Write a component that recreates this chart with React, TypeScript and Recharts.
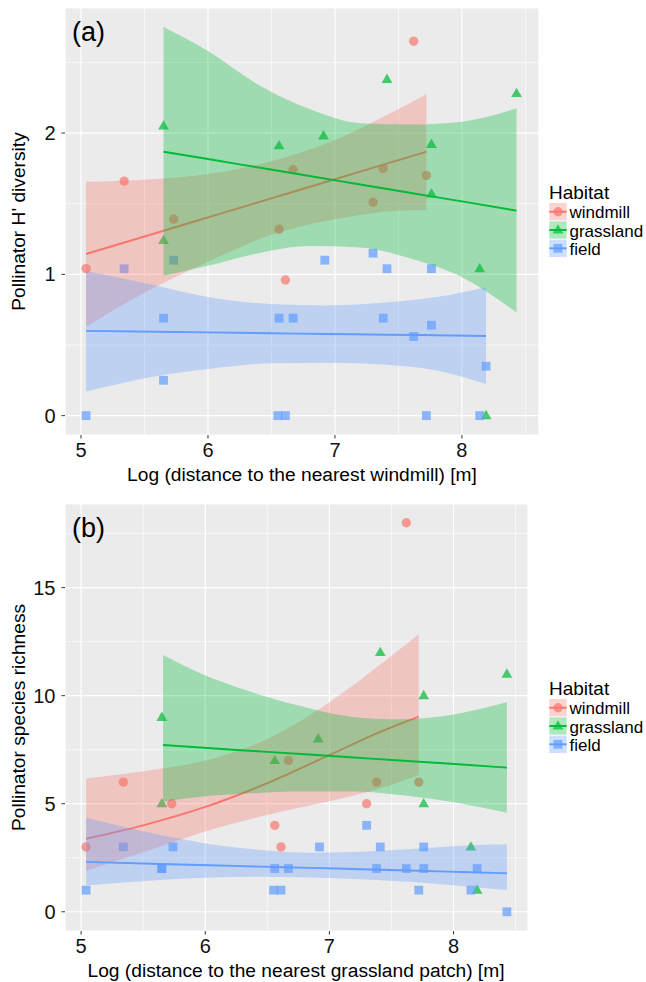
import { ComposedChart, Scatter, Area, Line, XAxis, YAxis, CartesianGrid, ReferenceLine } from 'recharts'

const RED = '#F8766D'
const GREEN = '#00BA38'
const BLUE = '#619CFF'
const FONT = '"Liberation Sans", Arial, Helvetica, sans-serif'

const HABITATS = ['windmill', 'grassland', 'field']

const X_TICKS = [5, 6, 7, 8]
const X_MINOR = [5.5, 6.5, 7.5, 8.5]
const DIV_TICKS = [0, 1, 2]
const DIV_MINOR = [0.5, 1.5, 2.5]
const RICH_TICKS = [0, 5, 10, 15]
const RICH_MINOR = [2.5, 7.5, 12.5, 17.5]

// observed points
const windmillX = [5.04, 5.34, 5.73, 6.56, 6.61, 6.67, 7.3, 7.38, 7.62, 7.72]
const windmillDiversity = [1.04, 1.66, 1.39, 1.32, 0.96, 1.74, 1.51, 1.75, 2.65, 1.7]
const windmillRichness = [3, 6, 5, 4, 3, 7, 5, 6, 18, 6]

const grassX = [5.65, 5.65, 6.56, 6.91, 7.41, 7.76, 7.76, 8.14, 8.19, 8.43]
const grassDiversity = [2.05, 1.24, 1.91, 1.98, 2.38, 1.92, 1.57, 1.04, 0.0, 2.28]
const grassRichness = [9, 5, 7, 8, 12, 10, 5, 3, 1, 11]

const fieldXA = [5.04, 5.34, 5.65, 5.65, 5.73, 6.55, 6.56, 6.61, 6.67, 6.92, 7.3, 7.38, 7.41, 7.62, 7.72, 7.76, 7.76, 8.14, 8.19]
const fieldDiversity = [0, 1.04, 0.69, 0.25, 1.1, 0, 0.69, 0, 0.69, 1.1, 1.15, 0.69, 1.04, 0.56, 0, 1.04, 0.64, 0, 0.35]
const fieldXB = [5.04, 5.34, 5.65, 5.65, 5.74, 6.55, 6.56, 6.61, 6.67, 6.92, 7.3, 7.38, 7.41, 7.62, 7.72, 7.76, 7.76, 8.14, 8.19, 8.43]
const fieldRichness = [1, 3, 2, 2, 3, 1, 2, 1, 2, 3, 4, 2, 3, 2, 1, 3, 2, 1, 2, 0]

// fitted lines + confidence bands, panel (a)
const windmillFitXA = [5.04, 5.5, 6.0, 6.5, 7.0, 7.5, 7.72]
const windmillFitA = [1.144, 1.268, 1.403, 1.538, 1.673, 1.809, 1.868]
const windmillLowA = [0.63, 0.87, 1.09, 1.28, 1.39, 1.45, 1.456]
const windmillHighA = [1.656, 1.67, 1.71, 1.8, 1.95, 2.17, 2.277]

const grassFitXA = [5.65, 6.0, 6.4, 6.8, 7.2, 7.6, 8.0, 8.43]
const grassFitA = [1.868, 1.816, 1.756, 1.696, 1.636, 1.576, 1.516, 1.451]
const grassLowA = [0.99, 1.06, 1.15, 1.2, 1.19, 1.11, 0.98, 0.73]
const grassHighA = [2.75, 2.58, 2.34, 2.17, 2.07, 2.06, 2.08, 2.175]

const fieldFitXA = [5.04, 5.6, 6.0, 6.5, 6.94, 7.4, 7.8, 8.19]
const fieldFitA = [0.6, 0.594, 0.589, 0.583, 0.578, 0.573, 0.569, 0.564]
const fieldLowA = [0.17, 0.28, 0.33, 0.37, 0.375, 0.36, 0.32, 0.224]
const fieldHighA = [1.024, 0.92, 0.84, 0.79, 0.78, 0.8, 0.84, 0.909]

// fitted lines + confidence bands, panel (b)
const windmillFitXB = [5.04, 5.5, 6.0, 6.5, 7.0, 7.4, 7.72]
const windmillFitB = [3.38, 4.0, 4.85, 5.95, 7.25, 8.3, 9.03]
const windmillLowB = [1.9, 2.75, 3.72, 4.48, 5.11, 5.69, 6.33]
const windmillHighB = [6.17, 6.5, 7.0, 8.0, 9.7, 11.4, 12.84]

const grassFitXB = [5.66, 5.96, 6.36, 6.77, 7.17, 7.57, 7.98, 8.43]
const grassFitB = [7.72, 7.6, 7.45, 7.3, 7.15, 7.0, 6.85, 6.67]
const grassLowB = [5.09, 5.32, 5.48, 5.56, 5.56, 5.4, 5.09, 4.58]
const grassHighB = [11.88, 11.04, 10.19, 9.52, 9.03, 8.91, 9.11, 9.69]

const fieldFitXB = [5.04, 5.64, 6.04, 6.44, 6.85, 7.25, 7.65, 8.06, 8.43]
const fieldFitB = [2.31, 2.21, 2.15, 2.09, 2.03, 1.97, 1.91, 1.84, 1.78]
const fieldLowB = [1.22, 1.47, 1.59, 1.62, 1.59, 1.51, 1.39, 1.19, 1.0]
const fieldHighB = [4.35, 3.55, 3.13, 2.86, 2.73, 2.78, 2.9, 3.06, 3.13]

const toPoints = (xs: number[], ys: number[]) => xs.map((x, i) => ({ x, y: ys[i] }))
const toBand = (xs: number[], fit: number[], lo: number[], hi: number[]) =>
  xs.map((x, i) => ({ x, fit: fit[i], range: [lo[i], hi[i]] }))

const Circle = (p: any) => <circle cx={p.cx} cy={p.cy} r={4.7} fill={RED} fillOpacity={0.7} />
const Triangle = (p: any) => (
  <polygon
    points={`${p.cx},${p.cy - 5.8} ${p.cx - 5.4},${p.cy + 3.6} ${p.cx + 5.4},${p.cy + 3.6}`}
    fill={GREEN}
    fillOpacity={0.7}
  />
)
const Square = (p: any) => <rect x={p.cx - 4.4} y={p.cy - 4.4} width={8.8} height={8.8} fill={BLUE} fillOpacity={0.7} />

interface PanelProps {
  windmill: { x: number; y: number }[]
  grass: { x: number; y: number }[]
  field: { x: number; y: number }[]
  windmillFit: any[]
  grassFit: any[]
  fieldFit: any[]
  yDomain: [number, number]
  yTicks: number[]
  yMinor: number[]
  xDomain: [number, number]
  right: number
}

function Panel(props: PanelProps) {
  const { yDomain, yTicks, yMinor, xDomain, right } = props
  const fits = [
    { data: props.windmillFit, color: RED, z: 120 },
    { data: props.grassFit, color: GREEN, z: 140 },
    { data: props.fieldFit, color: BLUE, z: 160 },
  ]
  return (
    <ComposedChart width={646} height={496} margin={{ top: 8, right, left: 0, bottom: 31 }}>
      <CartesianGrid fill="#EBEBEB" stroke="#FFFFFF" strokeWidth={1.2} />
      {X_MINOR.map(v => (
        <ReferenceLine key={`vx${v}`} x={v} stroke="#FFFFFF" strokeWidth={0.6} zIndex={-50} />
      ))}
      {yMinor.map(v => (
        <ReferenceLine key={`hy${v}`} y={v} stroke="#FFFFFF" strokeWidth={0.6} zIndex={-50} />
      ))}
      <XAxis
        type="number"
        dataKey="x"
        domain={xDomain}
        ticks={X_TICKS}
        allowDataOverflow
        axisLine={false}
        tickSize={3.5}
        tickMargin={4}
        height={30}
        tickLine={{ stroke: '#333333' }}
        tick={{ fill: '#111111', fontSize: 20, fontFamily: FONT }}
      />
      <YAxis
        type="number"
        dataKey="y"
        domain={yDomain}
        ticks={yTicks}
        allowDataOverflow
        axisLine={false}
        width={65}
        tickSize={3.5}
        tickMargin={6}
        tickLine={{ stroke: '#333333' }}
        tick={{ fill: '#111111', fontSize: 20, fontFamily: FONT }}
      />
      <Scatter data={props.windmill} shape={Circle} isAnimationActive={false} zIndex={100} />
      <Scatter data={props.grass} shape={Triangle} isAnimationActive={false} zIndex={101} />
      <Scatter data={props.field} shape={Square} isAnimationActive={false} zIndex={102} />
      {fits.map((f, i) => [
        <Area
          key={`a${i}`}
          data={f.data}
          dataKey="range"
          type="monotone"
          stroke="none"
          fill={f.color}
          fillOpacity={0.32}
          isAnimationActive={false}
          activeDot={false}
          zIndex={f.z}
        />,
        <Line
          key={`l${i}`}
          data={f.data}
          dataKey="fit"
          type="monotone"
          stroke={f.color}
          strokeWidth={1.9}
          dot={false}
          activeDot={false}
          isAnimationActive={false}
          zIndex={f.z + 1}
        />,
      ])}
    </ComposedChart>
  )
}

const COLORS = [RED, GREEN, BLUE]
const SHAPES = [Circle, Triangle, Square]

function LegendBlock({ top }: { top: number }) {
  return (
    <g>
      <text x={549} y={top} fontSize={19} fontFamily={FONT} fill="#000">Habitat</text>
      {HABITATS.map((h, i) => {
        const y0 = top + 4 + i * 18.3
        const Shape = SHAPES[i]
        return (
          <g key={h}>
            <rect x={549.3} y={y0} width={17.4} height={17.4} fill={COLORS[i]} fillOpacity={0.32} />
            <line x1={549.3} x2={566.7} y1={y0 + 8.7} y2={y0 + 8.7} stroke={COLORS[i]} strokeWidth={1.9} />
            <Shape cx={558} cy={y0 + 8.7} />
            <text x={569.5} y={y0 + 15.3} fontSize={17} fontFamily={FONT} fill="#000">{h}</text>
          </g>
        )
      })}
    </g>
  )
}

export default function App() {
  return (
    <div style={{ position: 'absolute', left: 0, top: 0, width: 646, height: 982, background: '#fff' }}>
      <div style={{ position: 'absolute', left: 0, top: 0 }}>
        <Panel
          windmill={toPoints(windmillX, windmillDiversity)}
          grass={toPoints(grassX, grassDiversity)}
          field={toPoints(fieldXA, fieldDiversity)}
          windmillFit={toBand(windmillFitXA, windmillFitA, windmillLowA, windmillHighA)}
          grassFit={toBand(grassFitXA, grassFitA, grassLowA, grassHighA)}
          fieldFit={toBand(fieldFitXA, fieldFitA, fieldLowA, fieldHighA)}
          xDomain={[4.874, 8.607]}
          yDomain={[-0.137, 2.885]}
          yTicks={DIV_TICKS}
          yMinor={DIV_MINOR}
          right={107}
        />
      </div>
      <div style={{ position: 'absolute', left: 0, top: 496 }}>
        <Panel
          windmill={toPoints(windmillX, windmillRichness)}
          grass={toPoints(grassX, grassRichness)}
          field={toPoints(fieldXB, fieldRichness)}
          windmillFit={toBand(windmillFitXB, windmillFitB, windmillLowB, windmillHighB)}
          grassFit={toBand(grassFitXB, grassFitB, grassLowB, grassHighB)}
          fieldFit={toBand(fieldFitXB, fieldFitB, fieldLowB, fieldHighB)}
          xDomain={[4.87, 8.6]}
          yDomain={[-0.89, 18.87]}
          yTicks={RICH_TICKS}
          yMinor={RICH_MINOR}
          right={118}
        />
      </div>
      <svg width={646} height={982} style={{ position: 'absolute', left: 0, top: 0, pointerEvents: 'none' }}>
        <text x={72} y={41} fontSize={27} fontFamily={FONT} fill="#000">(a)</text>
        <text x={72} y={537} fontSize={27} fontFamily={FONT} fill="#000">(b)</text>
        <text x={302} y={481} fontSize={19.2} fontFamily={FONT} fill="#000" textAnchor="middle">
          Log (distance to the nearest windmill) [m]
        </text>
        <text x={296} y={977} fontSize={19.2} fontFamily={FONT} fill="#000" textAnchor="middle">
          Log (distance to the nearest grassland patch) [m]
        </text>
        <text transform="translate(25,221.5) rotate(-90)" fontSize={19.2} fontFamily={FONT} fill="#000" textAnchor="middle">
          Pollinator H' diversity
        </text>
        <text transform="translate(25,717.5) rotate(-90)" fontSize={19.2} fontFamily={FONT} fill="#000" textAnchor="middle">
          Pollinator species richness
        </text>
        <LegendBlock top={199} />
        <LegendBlock top={695} />
      </svg>
    </div>
  )
}
